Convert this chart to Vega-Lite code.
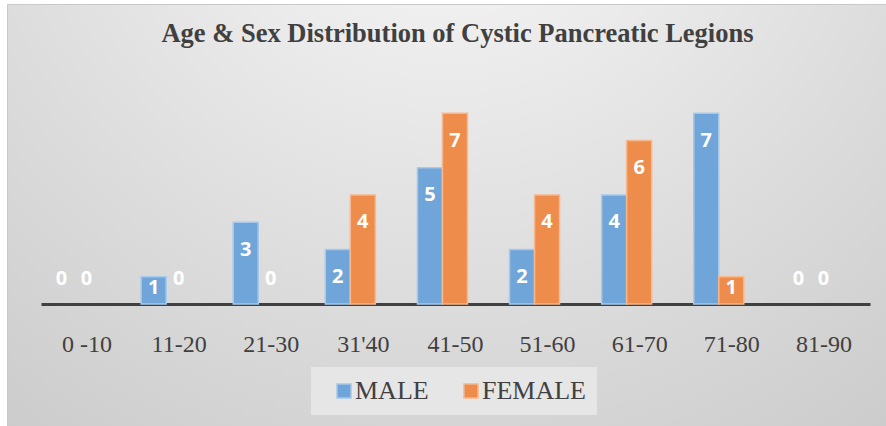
{
  "$schema": "https://vega.github.io/schema/vega-lite/v6.json",
  "autosize": {"type": "none"},
  "padding": {"left": 7, "top": 4, "right": 0, "bottom": 0},
  "width": 879,
  "height": 422,
  "background": "white",
  "view": {
    "fill": {
      "gradient": "radial",
      "x1": 0.5, "y1": 0.05, "r1": 0,
      "x2": 0.5, "y2": 0.05, "r2": 1.0,
      "stops": [
        {"offset": 0, "color": "#fbfbfb"},
        {"offset": 0.55, "color": "#dcdcdc"},
        {"offset": 1, "color": "#c4c4c4"}
      ]
    },
    "stroke": "#c8c8c8",
    "strokeWidth": 1
  },
  "title": {
    "text": "Age & Sex Distribution of Cystic Pancreatic Legions",
    "font": "Liberation Serif",
    "fontSize": 26.5,
    "fontWeight": "bold",
    "color": "#404040",
    "anchor": "middle",
    "frame": "group",
    "orient": "top",
    "baseline": "alphabetic",
    "offset": -39,
    "dy": 25,
    "dx": 11
  },
  "data": {
    "values": [
      {"age": "0 -10", "sex": "MALE", "value": 0},
      {"age": "0 -10", "sex": "FEMALE", "value": 0},
      {"age": "11-20", "sex": "MALE", "value": 1},
      {"age": "11-20", "sex": "FEMALE", "value": 0},
      {"age": "21-30", "sex": "MALE", "value": 3},
      {"age": "21-30", "sex": "FEMALE", "value": 0},
      {"age": "31'40", "sex": "MALE", "value": 2},
      {"age": "31'40", "sex": "FEMALE", "value": 4},
      {"age": "41-50", "sex": "MALE", "value": 5},
      {"age": "41-50", "sex": "FEMALE", "value": 7},
      {"age": "51-60", "sex": "MALE", "value": 2},
      {"age": "51-60", "sex": "FEMALE", "value": 4},
      {"age": "61-70", "sex": "MALE", "value": 4},
      {"age": "61-70", "sex": "FEMALE", "value": 6},
      {"age": "71-80", "sex": "MALE", "value": 7},
      {"age": "71-80", "sex": "FEMALE", "value": 1},
      {"age": "81-90", "sex": "MALE", "value": 0},
      {"age": "81-90", "sex": "FEMALE", "value": 0}
    ]
  },
  "encoding": {
    "x": {
      "field": "age",
      "type": "nominal",
      "sort": ["0 -10", "11-20", "21-30", "31'40", "41-50", "51-60", "61-70", "71-80", "81-90"],
      "scale": {
        "domain": ["0 -10", "11-20", "21-30", "31'40", "41-50", "51-60", "61-70", "71-80", "81-90"],
        "range": [34, 863], "paddingInner": 0, "paddingOuter": 0
      },
      "axis": {
        "title": null,
        "orient": "bottom",
        "offset": -122,
        "labelAngle": 0,
        "labelFont": "Liberation Serif",
        "labelFontSize": 24,
        "labelColor": "#404040",
        "labelBaseline": "top",
        "labelPadding": 28,
        "ticks": false,
        "tickSize": 0,
        "domainColor": "#404040",
        "domainWidth": 3,
        "grid": false
      }
    },
    "xOffset": {
      "field": "sex",
      "type": "nominal",
      "sort": ["MALE", "FEMALE"],
      "scale": {"domain": ["MALE", "FEMALE"], "range": [8, 58], "paddingInner": 0, "paddingOuter": 0}
    },
    "y": {
      "field": "value",
      "type": "quantitative",
      "scale": {"domain": [-4.477, 11.009], "nice": false, "zero": false},
      "axis": null
    }
  },
  "layer": [
    {
      "transform": [{"filter": "datum.value > 0"}],
      "mark": {"type": "bar", "strokeWidth": 1.5},
      "encoding": {
        "y2": {"datum": 0},
        "color": {
          "field": "sex",
          "type": "nominal",
          "sort": ["MALE", "FEMALE"],
          "scale": {"domain": ["MALE", "FEMALE"], "range": ["#6fa5d8", "#ee8d4b"]},
          "legend": {
            "title": null,
            "orient": "none",
            "legendX": 304,
            "legendY": 363,
            "direction": "horizontal",
            "symbolType": "square",
            "symbolSize": 196,
            "symbolStrokeWidth": 1.5,
            "labelFont": "Liberation Serif",
            "labelFontSize": 26,
            "labelColor": "#404040",
            "labelOffset": -2,
            "columnPadding": 20,
            "padding": 11,
            "symbolOffset": 9,
            "fillColor": "#e6e6e6"
          }
        },
        "stroke": {
          "field": "sex",
          "type": "nominal",
          "sort": ["MALE", "FEMALE"],
          "scale": {"domain": ["MALE", "FEMALE"], "range": ["#a6c8ea", "#f5b88f"]},
          "legend": null
        }
      }
    },
    {
      "transform": [{"filter": "datum.value >= 2"}],
      "mark": {"type": "text", "font": "Open Sans", "fontWeight": "bold", "fontSize": 20, "color": "white", "baseline": "middle", "dy": 27.5},
      "encoding": {"text": {"field": "value", "type": "quantitative"}}
    },
    {
      "transform": [{"filter": "datum.value == 1"}],
      "mark": {"type": "text", "font": "Open Sans", "fontWeight": "bold", "fontSize": 20, "color": "white", "baseline": "middle", "dy": 11.5},
      "encoding": {"text": {"field": "value", "type": "quantitative"}}
    },
    {
      "transform": [{"filter": "datum.value == 0"}],
      "mark": {"type": "text", "font": "Open Sans", "fontWeight": "bold", "fontSize": 20, "color": "white", "baseline": "middle", "dy": -24.5},
      "encoding": {"text": {"field": "value", "type": "quantitative"}}
    }
  ]
}
